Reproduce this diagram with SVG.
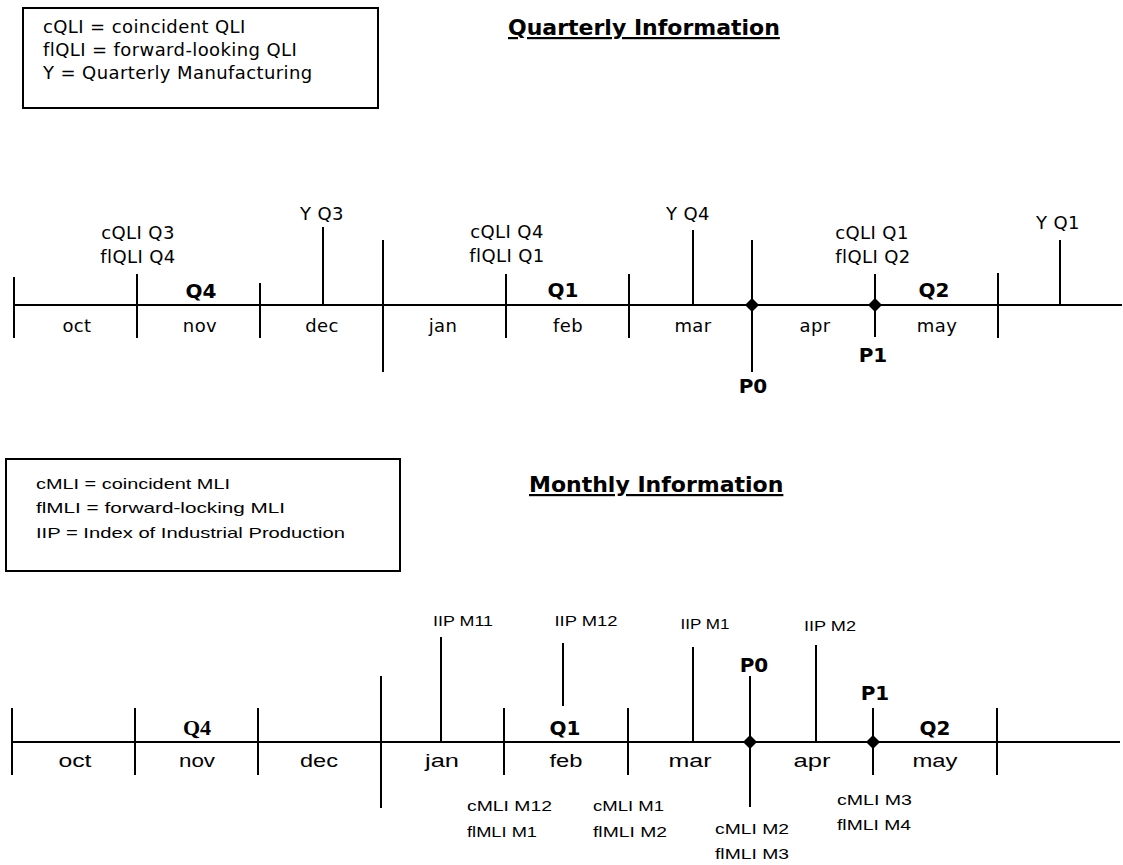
<svg xmlns="http://www.w3.org/2000/svg" xmlns:xlink="http://www.w3.org/1999/xlink" width="1123" height="865" viewBox="0 0 1123 865">
<style>
.ln{stroke:#000;stroke-width:2;fill:none}
.box{stroke:#000;stroke-width:2;fill:#fff}
.t{font-family:"DejaVu Sans",Verdana,sans-serif;font-size:18px;letter-spacing:0.4px;fill:#000}
.tb{font-family:"DejaVu Sans",Verdana,sans-serif;font-weight:bold;font-size:20px;fill:#000}
.ttl{font-family:"DejaVu Sans",Verdana,sans-serif;font-weight:bold;font-size:22px;text-decoration:underline;fill:#000}
.a{font-family:"Liberation Sans",Arial,sans-serif;font-size:15px;fill:#000}
.am{font-family:"Liberation Sans",Arial,sans-serif;font-size:17.5px;fill:#000}
.sb{font-family:"Liberation Serif","Times New Roman",serif;font-weight:bold;font-size:22px;fill:#000}
.m{text-anchor:middle}
</style>
<defs>
<path id="dia" d="M0,-7 L7,0 L0,7 L-7,0 Z" fill="#000"/>
</defs>
<rect width="1123" height="865" fill="#fff"/>

<!-- ===== Quarterly section ===== -->
<g id="q-legend">
<rect class="box" x="23" y="8" width="355" height="100"/>
<text class="t" x="43" y="33">cQLI = coincident QLI</text>
<text class="t" x="43" y="56">flQLI = forward-looking QLI</text>
<text class="t" x="43" y="79">Y = Quarterly Manufacturing</text>
</g>
<g id="q-title"><text class="ttl" x="508" y="35">Quarterly Information</text></g>

<g id="q-connectors">
<line class="ln" x1="14" y1="305" x2="1122" y2="305"/>
<line class="ln" x1="14" y1="277" x2="14" y2="338"/>
<line class="ln" x1="137" y1="274" x2="137" y2="338"/>
<line class="ln" x1="260" y1="283" x2="260" y2="338"/>
<line class="ln" x1="383" y1="240" x2="383" y2="372"/>
<line class="ln" x1="506" y1="274" x2="506" y2="338"/>
<line class="ln" x1="629" y1="274" x2="629" y2="338"/>
<line class="ln" x1="998" y1="273" x2="998" y2="338"/>
<line class="ln" x1="323" y1="227" x2="323" y2="305"/>
<line class="ln" x1="693" y1="230" x2="693" y2="305"/>
<line class="ln" x1="1060" y1="240" x2="1060" y2="305"/>
<line class="ln" x1="752" y1="240" x2="752" y2="372"/>
<line class="ln" x1="875" y1="274" x2="875" y2="337"/>
<use xlink:href="#dia" x="752" y="305"/>
<use xlink:href="#dia" x="875" y="305"/>
</g>

<g id="q-months">
<text class="t m" x="77" y="332">oct</text>
<text class="t m" x="200" y="332">nov</text>
<text class="t m" x="322" y="332">dec</text>
<text class="t m" x="443" y="332">jan</text>
<text class="t m" x="568" y="332">feb</text>
<text class="t m" x="693" y="332">mar</text>
<text class="t m" x="815" y="332">apr</text>
<text class="t m" x="937" y="332">may</text>
</g>
<g id="q-quarters">
<text class="tb m" x="201" y="298">Q4</text>
<text class="tb m" x="563" y="297">Q1</text>
<text class="tb m" x="934" y="297">Q2</text>
</g>
<g id="q-p0"><text class="tb m" x="753" y="393">P0</text></g>
<g id="q-p1"><text class="tb m" x="873" y="362">P1</text></g>
<g id="q-qli-1">
<text class="t m" x="138" y="239">cQLI Q3</text>
<text class="t m" x="138" y="263">flQLI Q4</text>
</g>
<g id="q-qli-2">
<text class="t m" x="507" y="238">cQLI Q4</text>
<text class="t m" x="507" y="262">flQLI Q1</text>
</g>
<g id="q-qli-3">
<text class="t m" x="872" y="239">cQLI Q1</text>
<text class="t m" x="873" y="263">flQLI Q2</text>
</g>
<g id="q-y3"><text class="t m" x="322" y="220">Y Q3</text></g>
<g id="q-y4"><text class="t m" x="688" y="220">Y Q4</text></g>
<g id="q-y1"><text class="t m" x="1058" y="229">Y Q1</text></g>

<!-- ===== Monthly section ===== -->
<g id="m-legend">
<rect class="box" x="6" y="459" width="394" height="112"/>
<text class="a" x="36" y="489" textLength="194" lengthAdjust="spacingAndGlyphs">cMLI = coincident MLI</text>
<text class="a" x="36" y="513" textLength="249" lengthAdjust="spacingAndGlyphs">flMLI = forward-locking MLI</text>
<text class="a" x="36" y="538" textLength="309" lengthAdjust="spacingAndGlyphs">IIP = Index of Industrial Production</text>
</g>
<g id="m-title"><text class="ttl" x="529" y="492">Monthly Information</text></g>

<g id="m-connectors">
<line class="ln" x1="12" y1="742" x2="1120" y2="742"/>
<line class="ln" x1="12" y1="708" x2="12" y2="775"/>
<line class="ln" x1="135" y1="708" x2="135" y2="775"/>
<line class="ln" x1="258" y1="708" x2="258" y2="775"/>
<line class="ln" x1="381" y1="676" x2="381" y2="808"/>
<line class="ln" x1="504" y1="708" x2="504" y2="775"/>
<line class="ln" x1="628" y1="708" x2="628" y2="775"/>
<line class="ln" x1="997" y1="708" x2="997" y2="775"/>
<line class="ln" x1="441" y1="637" x2="441" y2="742"/>
<line class="ln" x1="563" y1="643" x2="563" y2="706"/>
<line class="ln" x1="693" y1="647" x2="693" y2="742"/>
<line class="ln" x1="816" y1="645" x2="816" y2="742"/>
<line class="ln" x1="750" y1="676" x2="750" y2="807"/>
<line class="ln" x1="873" y1="708" x2="873" y2="775"/>
<use xlink:href="#dia" x="750" y="742"/>
<use xlink:href="#dia" x="873" y="742"/>
</g>

<g id="m-months">
<text class="am m" x="75" y="767" textLength="33" lengthAdjust="spacingAndGlyphs">oct</text>
<text class="am m" x="197" y="767" textLength="36" lengthAdjust="spacingAndGlyphs">nov</text>
<text class="am m" x="319" y="767" textLength="38" lengthAdjust="spacingAndGlyphs">dec</text>
<text class="am m" x="442" y="767" textLength="34" lengthAdjust="spacingAndGlyphs">jan</text>
<text class="am m" x="566" y="767" textLength="33" lengthAdjust="spacingAndGlyphs">feb</text>
<text class="am m" x="690" y="767" textLength="43" lengthAdjust="spacingAndGlyphs">mar</text>
<text class="am m" x="812" y="767" textLength="37" lengthAdjust="spacingAndGlyphs">apr</text>
<text class="am m" x="935" y="767" textLength="45" lengthAdjust="spacingAndGlyphs">may</text>
</g>
<g id="m-quarters">
<text class="sb m" x="197" y="735">Q4</text>
<text class="tb m" x="565" y="735">Q1</text>
<text class="tb m" x="935" y="735">Q2</text>
</g>
<g id="m-p0"><text class="tb m" x="754" y="672">P0</text></g>
<g id="m-p1"><text class="tb m" x="875" y="700">P1</text></g>
<g id="m-iip-m11"><text class="a m" x="463" y="626" textLength="60" lengthAdjust="spacingAndGlyphs">IIP M11</text></g>
<g id="m-iip-m12"><text class="a m" x="586" y="626" textLength="63" lengthAdjust="spacingAndGlyphs">IIP M12</text></g>
<g id="m-iip-m1"><text class="a m" x="705" y="629" textLength="49" lengthAdjust="spacingAndGlyphs">IIP M1</text></g>
<g id="m-iip-m2"><text class="a m" x="830" y="631" textLength="52" lengthAdjust="spacingAndGlyphs">IIP M2</text></g>
<g id="m-mli-1">
<text class="a" x="467" y="811" textLength="85" lengthAdjust="spacingAndGlyphs">cMLI M12</text>
<text class="a" x="467" y="837" textLength="70" lengthAdjust="spacingAndGlyphs">flMLI M1</text>
</g>
<g id="m-mli-2">
<text class="a" x="593" y="811" textLength="71" lengthAdjust="spacingAndGlyphs">cMLI M1</text>
<text class="a" x="593" y="837" textLength="74" lengthAdjust="spacingAndGlyphs">flMLI M2</text>
</g>
<g id="m-mli-3">
<text class="a" x="715" y="834" textLength="74" lengthAdjust="spacingAndGlyphs">cMLI M2</text>
<text class="a" x="715" y="859" textLength="74" lengthAdjust="spacingAndGlyphs">flMLI M3</text>
</g>
<g id="m-mli-4">
<text class="a" x="837" y="805" textLength="75" lengthAdjust="spacingAndGlyphs">cMLI M3</text>
<text class="a" x="837" y="830" textLength="74" lengthAdjust="spacingAndGlyphs">flMLI M4</text>
</g>
</svg>
